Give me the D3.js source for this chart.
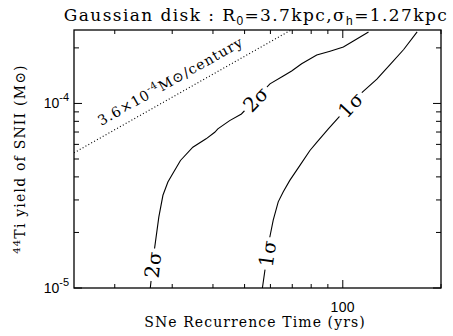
<!DOCTYPE html>
<html><head><meta charset="utf-8">
<script src="https://cdn.jsdelivr.net/npm/d3@7"></script>
<style>body{margin:0;background:#fff}svg{display:block}</style></head>
<body><svg id="c" width="453" height="336"></svg>
<script>
// SNe recurrence time (yrs) and 44Ti yield (Msun) along the 2-sigma contour
const sigma2Time  = [25.7, 26.5, 27.3, 28.1, 29.1, 30.1, 31.8, 34.7, 38.1, 40.5, 41.4, 45.0, 48.9,
                     59.8, 65.7, 69.7, 74.8, 83.2, 91.4, 100.4, 107.8, 119.9];
const sigma2Yield = [1.0e-5, 1.65e-5, 2.43e-5, 3.18e-5, 3.75e-5, 4.16e-5, 4.91e-5, 5.79e-5, 6.43e-5, 6.98e-5, 7.28e-5, 8.07e-5, 8.77e-5,
                     1.277e-4, 1.41e-4, 1.50e-4, 1.64e-4, 1.83e-4, 1.92e-4, 2.02e-4, 2.18e-4, 2.44e-4];
// ... and along the 1-sigma contour
const sigma1Time  = [56.7, 59.5, 61.2, 63.4, 65.7, 68.8, 73.9, 79.3, 83.2, 90.3, 97.6,
                     114.4, 127.2, 139.8, 153.7, 169.0];
const sigma1Yield = [1.0e-5, 1.82e-5, 2.33e-5, 2.93e-5, 3.32e-5, 3.83e-5, 4.62e-5, 5.56e-5, 6.16e-5, 7.28e-5, 8.48e-5,
                     1.146e-4, 1.353e-4, 1.63e-4, 1.96e-4, 2.44e-4];
// constant 44Ti production rate (Msun per century)
const productionRate = 3.6e-4;
const timeDomain  = [15, 200];
const yieldDomain = [1e-5, 2.5e-4];
const xTickValues = [100];
const xTickLabels = ["100"];
const yTickValues = [1e-5, 1e-4];
const yTickExps   = ["-5", "-4"];
// contour labels: which segment of the curve they sit on, and how far along it
const contourLabels = [
  {curve: "s2", text: "2", seg: 0,  t: 0.58},
  {curve: "s2", text: "2", seg: 12, t: 0.5},
  {curve: "s1", text: "1", seg: 0,  t: 0.72},
  {curve: "s1", text: "1", seg: 10, t: 0.5}
];

const svg = d3.select("#c");
svg.append("rect").attr("width", 453).attr("height", 336).attr("fill", "#fff");
const L = 74, R = 441, T = 30, B = 288;
const x = d3.scaleLog().domain(timeDomain).range([L, R]);
const y = d3.scaleLog().domain(yieldDomain).range([B, T]);
const serif = "'DejaVu Serif', serif";
const sans = "'Liberation Sans', Arial, sans-serif";

svg.append("clipPath").attr("id", "plot").append("rect")
  .attr("x", L).attr("y", T).attr("width", R - L).attr("height", B - T);
const g = svg.append("g").attr("clip-path", "url(#plot)");

const curves = {
  s2: sigma2Time.map((t, i) => [t, sigma2Yield[i]]),
  s1: sigma1Time.map((t, i) => [t, sigma1Yield[i]])
};
const line = d3.line().x(d => x(d[0])).y(d => y(d[1]));
Object.values(curves).forEach(c => {
  g.append("path").attr("d", line(c)).attr("fill", "none")
    .attr("stroke", "#000").attr("stroke-width", 1.1);
});

// constant-rate line: yield = rate * T / 100
const rateLine = timeDomain.map(t => [t, productionRate * t / 100]);
g.append("path").attr("d", line(rateLine)).attr("fill", "none")
  .attr("stroke", "#000").attr("stroke-width", 1.1).attr("stroke-dasharray", "1 2.3");

// contour labels with a white gap behind them
contourLabels.forEach(lb => {
  const c = curves[lb.curve];
  const p0 = [x(c[lb.seg][0]), y(c[lb.seg][1])];
  const p1 = [x(c[lb.seg + 1][0]), y(c[lb.seg + 1][1])];
  const cx = p0[0] + (p1[0] - p0[0]) * lb.t, cy = p0[1] + (p1[1] - p0[1]) * lb.t;
  const ang = Math.atan2(p1[1] - p0[1], p1[0] - p0[0]) * 180 / Math.PI;
  const lg = g.append("g").attr("transform", `translate(${cx},${cy}) rotate(${ang})`);
  const bg = lg.append("rect").attr("fill", "#fff");
  const tx = lg.append("text").attr("text-anchor", "middle").attr("dy", "0.36em")
    .attr("font-family", serif).attr("font-size", 20).attr("letter-spacing", 0.5);
  tx.append("tspan").text(lb.text);
  tx.append("tspan").attr("font-size", 19).text("σ");
  const w = tx.node().getComputedTextLength();
  bg.attr("x", -w / 2 - 3).attr("y", -7).attr("width", w + 6).attr("height", 14);
});

// label along the constant-rate line
{
  const t0 = 31.2, yv = productionRate * t0 / 100;
  const p0 = [x(timeDomain[0]), y(productionRate * timeDomain[0] / 100)];
  const p1 = [x(timeDomain[1]), y(productionRate * timeDomain[1] / 100)];
  const ang = Math.atan2(p1[1] - p0[1], p1[0] - p0[0]) * 180 / Math.PI;
  const lt = svg.append("text")
    .attr("transform", `translate(${x(t0)},${y(yv)}) rotate(${ang}) translate(0,-10)`)
    .attr("text-anchor", "middle").attr("font-family", serif).attr("font-size", 14)
    .attr("letter-spacing", 1.0);
  lt.append("tspan").text("3.6×10");
  lt.append("tspan").attr("font-size", 10).attr("dy", -6).text("-4");
  lt.append("tspan").attr("dy", 6).text("M⊙/century");
}

// frame
svg.append("rect").attr("x", L).attr("y", T).attr("width", R - L).attr("height", B - T)
  .attr("fill", "none").attr("stroke", "#000").attr("stroke-width", 1.3);

// ticks on all four sides, pointing inwards
const isMajor = v => Math.abs(Math.log10(v) - Math.round(Math.log10(v))) < 1e-9;
x.ticks().forEach(v => {
  const len = isMajor(v) ? 8 : 4, px = x(v);
  svg.append("line").attr("x1", px).attr("x2", px).attr("y1", B).attr("y2", B - len).attr("stroke", "#000");
  svg.append("line").attr("x1", px).attr("x2", px).attr("y1", T).attr("y2", T + len).attr("stroke", "#000");
});
y.ticks().forEach(v => {
  const len = isMajor(v) ? 8 : 5, py = y(v);
  svg.append("line").attr("x1", L).attr("x2", L + len).attr("y1", py).attr("y2", py).attr("stroke", "#000");
  svg.append("line").attr("x1", R).attr("x2", R - len).attr("y1", py).attr("y2", py).attr("stroke", "#000");
});

// tick labels
xTickValues.forEach((v, i) => {
  svg.append("text").attr("x", x(v)).attr("y", B + 24).attr("text-anchor", "middle")
    .attr("font-family", sans).attr("font-size", 14).attr("letter-spacing", 0.4).text(xTickLabels[i]);
});
yTickValues.forEach((v, i) => {
  const t = svg.append("text").attr("x", L - 5).attr("y", y(v) + 5).attr("text-anchor", "end")
    .attr("font-family", sans).attr("font-size", 14);
  t.append("tspan").text("10");
  t.append("tspan").attr("font-size", 11).attr("dy", -7).text(yTickExps[i]);
});

// axis titles
svg.append("text").attr("x", 255).attr("y", 327).attr("text-anchor", "middle")
  .attr("font-family", serif).attr("font-size", 14).attr("letter-spacing", 1.1)
  .text("SNe Recurrence Time (yrs)");
{
  const yt = svg.append("text").attr("transform", `translate(25,159) rotate(-90)`)
    .attr("text-anchor", "middle").attr("font-family", serif).attr("font-size", 14)
    .attr("letter-spacing", 1.2);
  yt.append("tspan").attr("font-size", 10).attr("dy", -5).text("44");
  yt.append("tspan").attr("dy", 5).text("Ti yield of SNII (M⊙)");
}

// title
{
  const tt = svg.append("text").attr("x", 256).attr("y", 21).attr("text-anchor", "middle")
    .attr("font-family", serif).attr("font-size", 17).attr("letter-spacing", 1.4);
  tt.append("tspan").text("Gaussian disk : R");
  tt.append("tspan").attr("font-family", sans).attr("font-size", 12).attr("dy", 4).text("0");
  tt.append("tspan").attr("dy", -4).text("=3.7kpc,σ");
  tt.append("tspan").attr("font-family", sans).attr("font-size", 12).attr("dy", 4).text("h");
  tt.append("tspan").attr("dy", -4).text("=1.27kpc");
}
</script></body></html>
